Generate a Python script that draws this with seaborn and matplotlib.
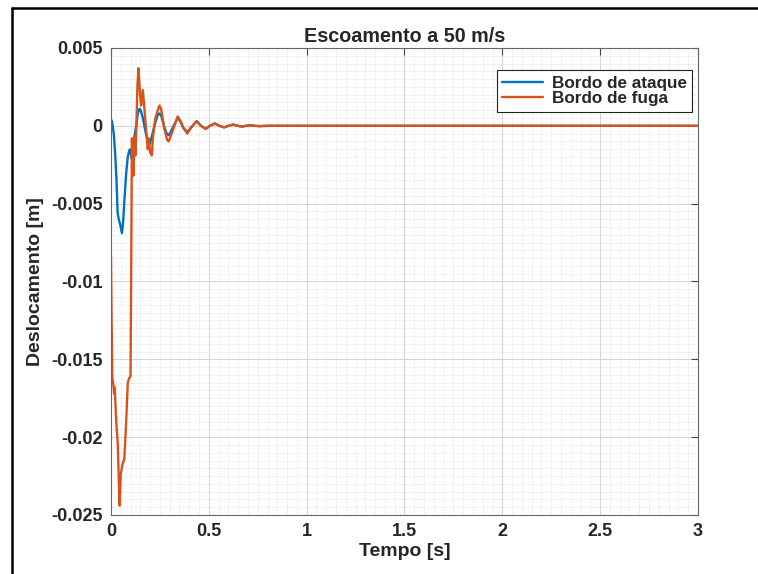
import numpy as np
import pandas as pd
import matplotlib
matplotlib.use("Agg")
import matplotlib.pyplot as plt
from matplotlib.lines import Line2D
from matplotlib.ticker import MultipleLocator, FixedLocator, FixedFormatter
import seaborn as sns

# ---------------- data ----------------
t_ataque = [0.000, 0.005, 0.010, 0.015, 0.021, 0.028, 0.034, 0.040, 0.048, 0.056,
            0.062, 0.069, 0.078, 0.086, 0.093, 0.098, 0.106, 0.115, 0.122, 0.129,
            0.137, 0.146, 0.152, 0.163, 0.180, 0.190, 0.197, 0.205, 0.222, 0.239,
            0.248, 0.258, 0.273, 0.285, 0.295, 0.305, 0.324, 0.341, 0.355, 0.368,
            0.390, 0.410, 0.438, 0.460, 0.484, 0.505, 0.531, 0.555, 0.578, 0.600,
            0.625, 0.648, 0.670, 0.690, 0.710, 0.735, 0.760, 0.800, 3.000]
v_ataque = [0.0004, 0.0003, -0.0001, -0.0006, -0.0017, -0.0034, -0.0056, -0.0060, -0.0064, -0.0069,
            -0.0062, -0.0047, -0.0030, -0.0020, -0.0016, -0.0015, -0.0021, -0.0012, -0.0005, 0.0000,
            0.0008, 0.0011, 0.0010, 0.0005, -0.0006, -0.0010, -0.0012, -0.0009, 0.0000, 0.0007,
            0.0008, 0.0006, -0.0001, -0.0005, -0.0006, -0.0004, 0.0001, 0.0005, 0.0003, -0.0001,
            -0.0004, -0.0001, 0.0003, 0.0000, -0.0002, 0.0000, 0.00015, 0.0000, -0.0001, 0.0000,
            0.00008, 0.0000, -0.00005, 0.0000, 0.00003, 0.0000, -0.00002, 0.0000, 0.0000]

t_fuga = [0.000, 0.003, 0.007, 0.012, 0.016, 0.019, 0.027, 0.035, 0.044, 0.050,
          0.058, 0.068, 0.077, 0.086, 0.093, 0.100, 0.103, 0.107, 0.111, 0.115,
          0.120, 0.125, 0.130, 0.135, 0.140, 0.149, 0.154, 0.163, 0.171, 0.180,
          0.188, 0.193, 0.200, 0.209, 0.214, 0.227, 0.239, 0.248, 0.256, 0.273,
          0.287, 0.295, 0.316, 0.341, 0.360, 0.368, 0.390, 0.410, 0.438, 0.460,
          0.484, 0.505, 0.531, 0.555, 0.578, 0.600, 0.625, 0.648, 0.670, 0.690,
          0.710, 0.735, 0.760, 0.800, 3.000]
v_fuga = [-0.0084, -0.0122, -0.0162, -0.0166, -0.0172, -0.0168, -0.0190, -0.0205, -0.0244, -0.0224,
          -0.0218, -0.0214, -0.0192, -0.0165, -0.0162, -0.0161, -0.0100, -0.0008, -0.0021, -0.0032,
          -0.0007, -0.0019, 0.0000, 0.0025, 0.0037, 0.0020, 0.0013, 0.0023, 0.0011, -0.0003,
          -0.0015, -0.0008, -0.0017, -0.0019, -0.0008, 0.0005, 0.0010, 0.0013, 0.0011, -0.0002,
          -0.0009, -0.0010, -0.0003, 0.0006, 0.0002, -0.0001, -0.0005, -0.0001, 0.0003, 0.0000,
          -0.0002, 0.0000, 0.00015, 0.0000, -0.0001, 0.0000, 0.00008, 0.0000, -0.00005, 0.0000,
          0.00003, 0.0000, -0.00002, 0.0000, 0.0000]

series_names = ["Bordo de ataque", "Bordo de fuga"]
x_ticks = [0, 0.5, 1, 1.5, 2, 2.5, 3]
x_tick_labels = ["0", "0.5", "1", "1.5", "2", "2.5", "3"]
y_ticks = [-0.025, -0.02, -0.015, -0.01, -0.005, 0, 0.005]
y_tick_labels = ["-0.025", "-0.02", "-0.015", "-0.01", "-0.005", "0", "0.005"]
title = "Escoamento a 50 m/s"
x_label = "Tempo [s]"
y_label = "Deslocamento [m]"

df = pd.concat([
    pd.DataFrame({"t": t_ataque, "v": v_ataque, "serie": series_names[0]}),
    pd.DataFrame({"t": t_fuga, "v": v_fuga, "serie": series_names[1]}),
], ignore_index=True)

# ---------------- style ----------------
sns.set_theme(style="white")
plt.rcParams["font.family"] = ["Liberation Sans", "DejaVu Sans"]
plt.rcParams["font.weight"] = "bold"

fig = plt.figure(figsize=(7.58, 5.74), dpi=100)
ax = fig.add_axes([0.1464, 0.1028, 0.7744, 0.8136])

palette = {series_names[0]: "#0072BD", series_names[1]: "#D95319"}
sns.lineplot(data=df, x="t", y="v", hue="serie", palette=palette, ax=ax,
             linewidth=1.7, sort=False, estimator=None, legend=True)

ax.set_xlim(0, 3)
ax.set_ylim(-0.025, 0.005)
ax.xaxis.set_major_locator(FixedLocator(x_ticks))
ax.xaxis.set_major_formatter(FixedFormatter(x_tick_labels))
ax.yaxis.set_major_locator(FixedLocator(y_ticks))
ax.yaxis.set_major_formatter(FixedFormatter(y_tick_labels))
ax.xaxis.set_minor_locator(MultipleLocator(0.05))
ax.yaxis.set_minor_locator(MultipleLocator(0.0005))

ax.grid(True, which="major", color="#d4d4d4", linewidth=0.7, linestyle="-")
ax.grid(True, which="minor", color="#dcdcdc", linewidth=0.5, linestyle=(0, (1.5, 1.5)))
ax.set_axisbelow(True)

ax.tick_params(axis="both", which="major", direction="in", length=5, width=0.8,
               top=True, right=True, labelsize=13, color="#444444", pad=6)
ax.tick_params(axis="both", which="minor", length=0, top=True, right=True)
for lab in ax.get_xticklabels() + ax.get_yticklabels():
    lab.set_fontweight("bold")
for s in ax.spines.values():
    s.set_color("#666666")
    s.set_linewidth(0.8)

ax.set_title(title, fontsize=14.2, fontweight="bold", pad=4)
ax.set_xlabel(x_label, fontsize=14, fontweight="bold", labelpad=2)
ax.set_ylabel(y_label, fontsize=14, fontweight="bold", labelpad=5)

leg = ax.legend(loc="upper right", bbox_to_anchor=(0.99, 0.952), borderaxespad=0,
                frameon=True, fancybox=False, edgecolor="#222222", framealpha=1,
                prop={"weight": "bold", "size": 12.3}, handlelength=2.4,
                labelspacing=0.05, borderpad=0.3, handletextpad=0.5)
leg.get_frame().set_linewidth(0.8)

# outer frame lines (cropped border of original figure)
fig.add_artist(Line2D([12 / 758, 1.0], [1 - 7.5 / 574, 1 - 7.5 / 574],
                      transform=fig.transFigure, color="black", linewidth=1.8))
fig.add_artist(Line2D([12 / 758, 12 / 758], [0.0, 1 - 7.5 / 574],
                      transform=fig.transFigure, color="black", linewidth=1.8))

fig.savefig("out.png", dpi=100, facecolor="white")
